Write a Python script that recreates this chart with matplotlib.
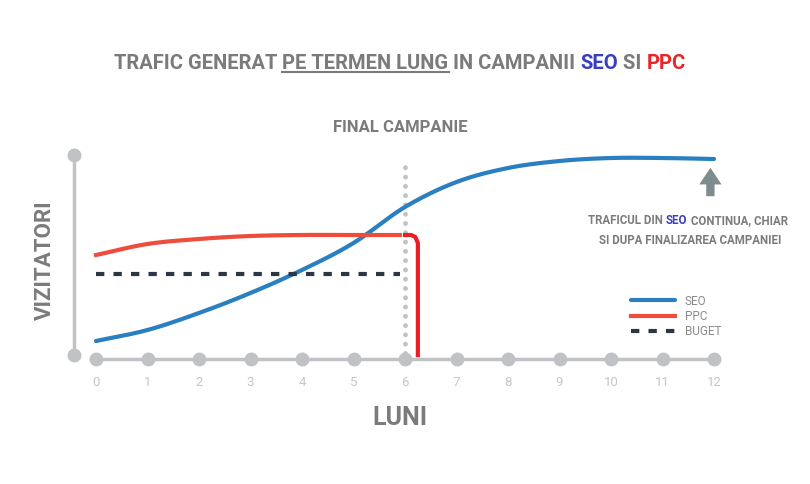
import matplotlib
matplotlib.use("Agg")
import matplotlib.pyplot as plt
import numpy as np

months = list(range(13))
seo = [9, 14.5, 23, 33, 44.5, 58, 76, 88.5, 95.5, 99, 100.5, 100.5, 100]
ppc_x = [0, 1, 2, 3, 4, 5, 5.9]
ppc = [52, 57.5, 60, 61.5, 62, 62, 62]
drop_x = [6.0, 6.12, 6.2, 6.25, 6.25]
drop_y = [62, 62, 61, 58, 2]
buget_x = [0, 5.9]
buget = [42.5, 42.5]
final_month = 6

FONT = ['Roboto', 'DejaVu Sans']
GRAY = '#c0c2c6'
TXT = '#7b7b7b'


def smooth(x, y, n=20):
    x = np.asarray(x, float); y = np.asarray(y, float)
    px = np.concatenate([[2 * x[0] - x[1]], x, [2 * x[-1] - x[-2]]])
    py = np.concatenate([[2 * y[0] - y[1]], y, [2 * y[-1] - y[-2]]])
    ox, oy = [], []
    for i in range(1, len(px) - 2):
        t = np.linspace(0, 1, n, endpoint=False)
        for arr, out in ((px, ox), (py, oy)):
            p0, p1, p2, p3 = arr[i - 1:i + 3]
            out.extend(0.5 * (2 * p1 + (-p0 + p2) * t + (2 * p0 - 5 * p1 + 4 * p2 - p3) * t ** 2
                              + (-p0 + 3 * p1 - 3 * p2 + p3) * t ** 3))
    ox.append(x[-1]); oy.append(y[-1])
    return ox, oy


fig = plt.figure(figsize=(8.1, 4.84), dpi=100)
W, H = 810, 484
l, r, t, b = 60, 740, 140, 400
ax = fig.add_axes([l / W, 1 - b / H, (r - l) / W, (b - t) / H])
ppx = 12 / 618
ax.set_xlim(-(96 - l) * ppx, 12 + (r - 714) * ppx)
ax.set_ylim((359 - b) / 2, (359 - t) / 2)
ax.axis('off')

yx = (74 - 96) * ppx
ax.plot([yx, yx], [2, 102], color=GRAY, lw=2.5, clip_on=False)
ax.plot([yx, yx], [2, 102], 'o', color=GRAY, ms=9, clip_on=False)
ax.plot([0, 12], [0, 0], color=GRAY, lw=2.5)
ax.plot(months, [0] * 13, 'o', color=GRAY, ms=9)
for m in months:
    ax.text(m, -12, str(m), ha='center', va='center', color='#c4c6ca', fontsize=9.5, family=FONT)

ax.plot([final_month] * 2, [3, 100], color=GRAY, lw=3.5, ls=(0, (0.01, 1.9)), dash_capstyle='round')

sx, sy = smooth(months, seo)
ax.plot(sx, sy, color='#2a7fc0', lw=3, solid_capstyle='round', label='SEO')
px_, py_ = smooth(ppc_x, ppc)
ax.plot(px_, py_, color='#ee4c3c', lw=3, label='PPC')
ax.plot(drop_x, drop_y, color='#ee1c24', lw=3, solid_joinstyle='round')
ax.plot(buget_x, buget, color='#2c3746', lw=3, ls=(0, (2, 2.2)), label='BUGET')

leg = ax.legend(loc='upper left', bbox_to_anchor=(620 / W, 1 - 284 / H), bbox_transform=fig.transFigure,
                frameon=False, handlelength=3.8, labelspacing=0.2, prop={'family': FONT, 'size': 8.5})
for txt in leg.get_texts():
    txt.set_color('#8a8a8a')

ax.annotate('', xy=(11.93, 97), xytext=(11.93, 80),
            arrowprops=dict(arrowstyle='simple,head_width=1.6,head_length=1.2,tail_width=0.6',
                            color='#7f8c8d', lw=0))


def colored_line(segs, x, y, size, weight='bold', underline=()):
    fig.canvas.draw()
    rend = fig.canvas.get_renderer()
    objs = [fig.text(0, 0, s, color=c, fontsize=size, family=FONT, weight=weight, va='baseline')
            for s, c in segs]
    widths = [o.get_window_extent(rend).width for o in objs]
    x0 = x - sum(widths) / 2
    for i, (o, w) in enumerate(zip(objs, widths)):
        o.set_position((x0 / W, 1 - y / H))
        if i in underline:
            fig.add_artist(plt.Line2D([x0 / W, (x0 + w) / W], [1 - (y + 3) / H] * 2, color=TXT, lw=1.5))
        x0 += w


colored_line([('TRAFIC GENERAT ', TXT), ('PE TERMEN LUNG', TXT), (' IN CAMPANII ', TXT),
              ('SEO', '#3a3fc1'), (' SI ', TXT), ('PPC', '#e8262a')], 400, 69, 14.5, underline=(1,))
colored_line([('TRAFICUL DIN ', TXT), ('SEO', '#3a3fc1'), (' CONTINUA, CHIAR', TXT)], 688, 224, 8.3)
colored_line([('SI DUPA FINALIZAREA CAMPANIEI', TXT)], 690, 244, 8.3)

fig.text(400 / W, 1 - 128 / H, 'FINAL CAMPANIE', ha='center', va='center', color=TXT, fontsize=12,
         family=FONT, weight='bold')
fig.text(400 / W, 1 - 418 / H, 'LUNI', ha='center', va='center', color=TXT, fontsize=18,
         family=FONT, weight='bold')
fig.text(45 / W, 1 - 260 / H, 'VIZITATORI', ha='center', va='center', rotation=90, color=TXT,
         fontsize=16, family=FONT, weight='bold')

fig.savefig('out.png', dpi=100)
